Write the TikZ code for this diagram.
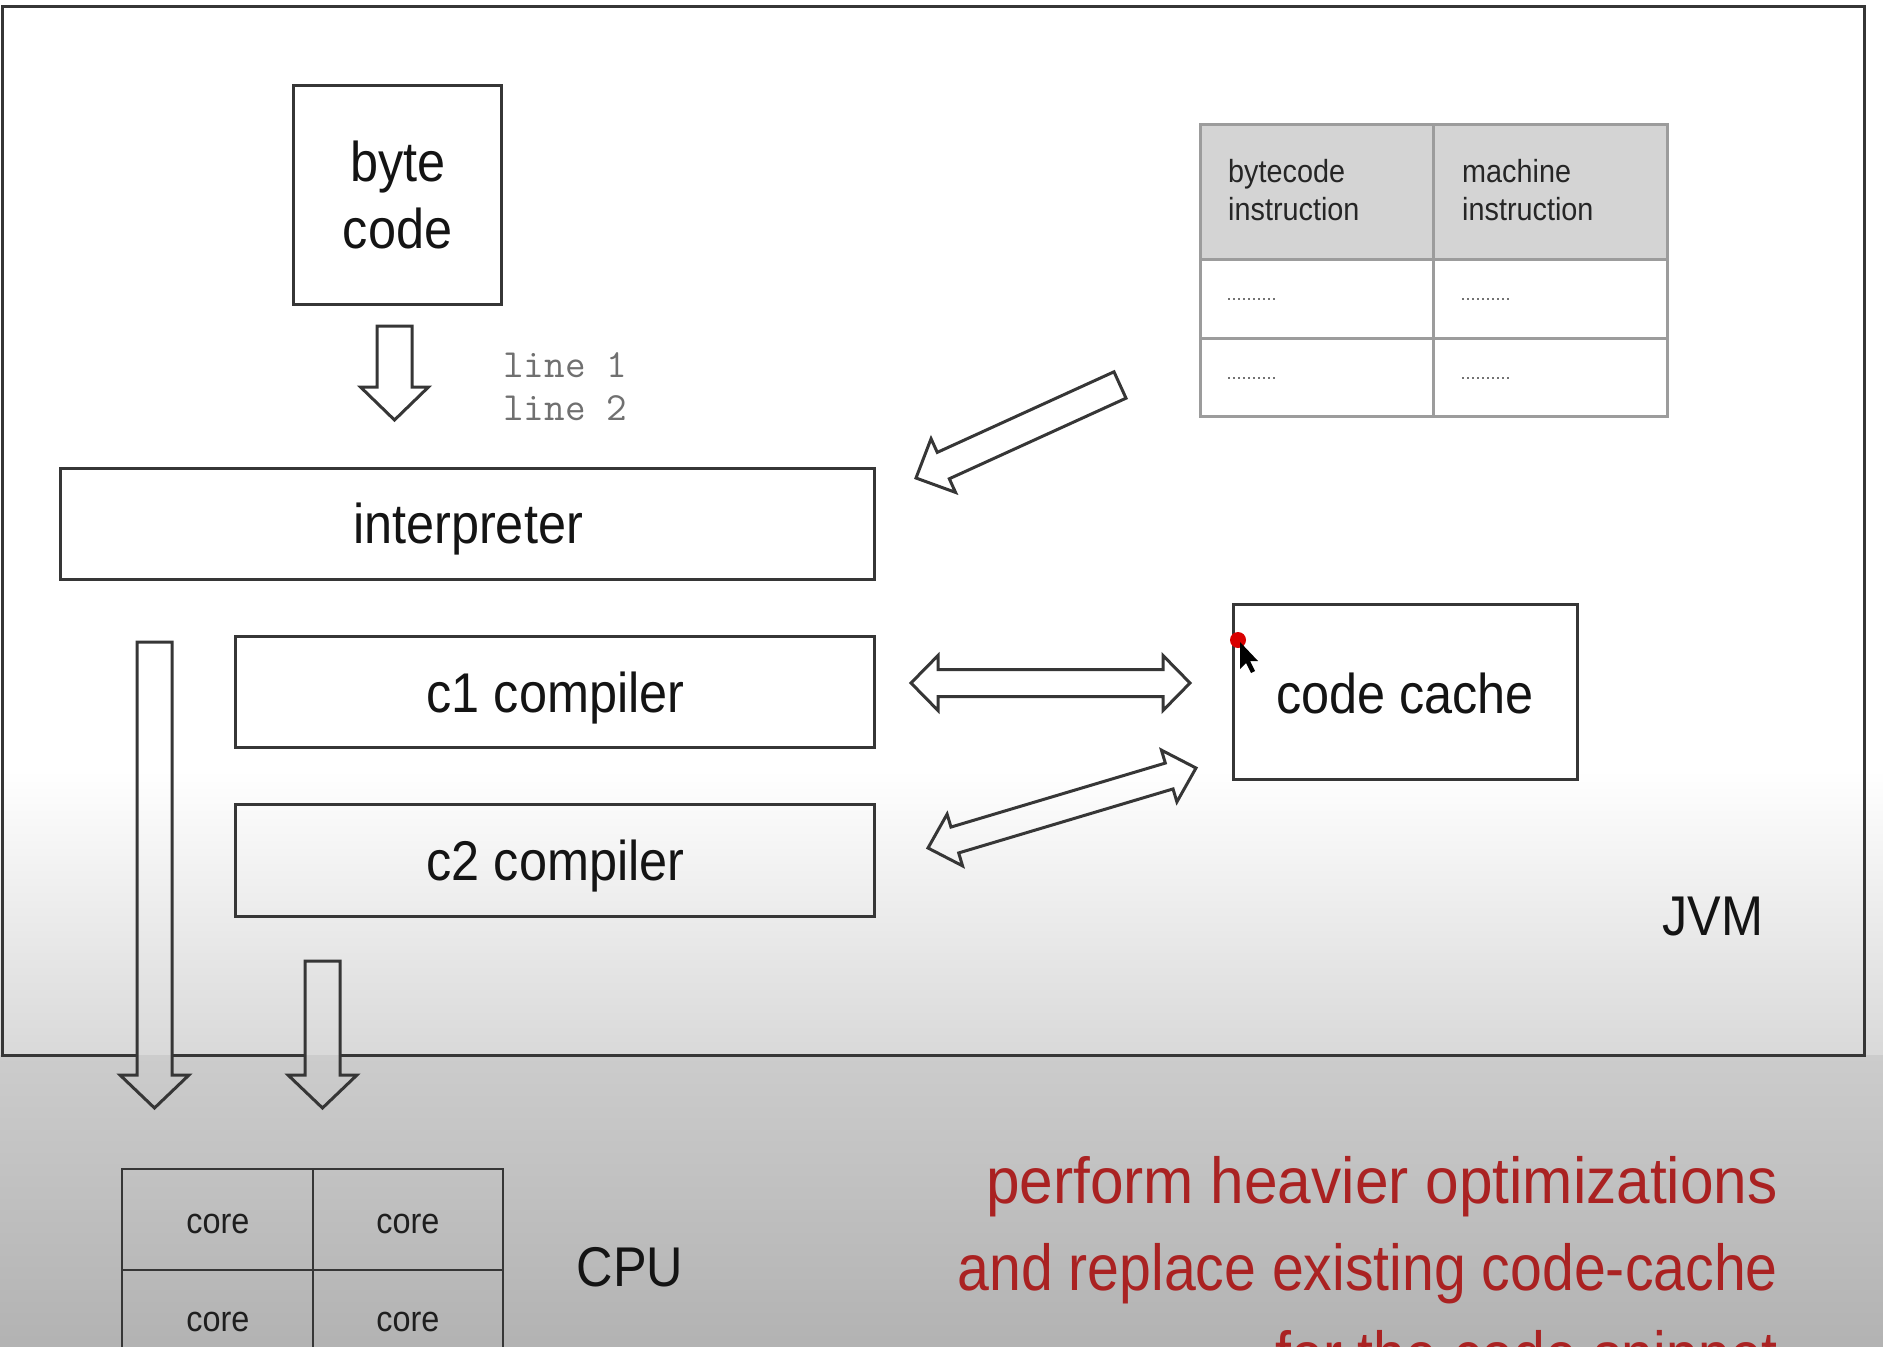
\documentclass[tikz,border=0pt]{standalone}
\usepackage{fontspec}
\setmainfont{Liberation Sans}[FakeStretch=0.9]
\newfontfamily\redfont{Liberation Sans}[FakeStretch=0.88]
\usetikzlibrary{calc}
\definecolor{edge}{HTML}{363636}
\definecolor{tabedge}{HTML}{9C9C9C}
\definecolor{tabhead}{HTML}{D4D4D4}
\definecolor{redtxt}{RGB}{170,34,34}
\definecolor{monogray}{HTML}{707070}
\newcommand\blkarrow[5]{%
  \coordinate (ba-b) at ($(#2)!#5pt!(#1)$);
  \draw[blockarr] ($(#1)!#3pt!90:(#2)$) -- ($(ba-b)!#3pt!90:(#2)$) -- ($(ba-b)!#4pt!90:(#2)$) -- (#2) -- ($(ba-b)!#4pt!-90:(#2)$) -- ($(ba-b)!#3pt!-90:(#2)$) -- ($(#1)!#3pt!-90:(#2)$) -- cycle;}
\newcommand\dblkarrow[5]{%
  \coordinate (da-a) at ($(#1)!#5pt!(#2)$);
  \coordinate (da-b) at ($(#2)!#5pt!(#1)$);
  \draw[blockarr] (#1) -- ($(da-a)!#4pt!90:(#2)$) -- ($(da-a)!#3pt!90:(#2)$) -- ($(da-b)!#3pt!90:(#2)$) -- ($(da-b)!#4pt!90:(#2)$) -- (#2) -- ($(da-b)!#4pt!-90:(#2)$) -- ($(da-b)!#3pt!-90:(#2)$) -- ($(da-a)!#3pt!-90:(#2)$) -- ($(da-a)!#4pt!-90:(#2)$) -- cycle;}
\begin{document}
\begin{tikzpicture}[x=1pt,y=-1pt,
  boxline/.style={draw=edge, line width=3pt},
  box/.style={boxline, inner sep=0pt, rectangle},
  blockarr/.style={draw=edge, line width=3pt, line join=miter},
  biglabel/.style={inner sep=0pt, anchor=base, font=\fontsize{56}{67}\selectfont, text=black!92},
  corelabel/.style={inner sep=0pt, anchor=base, font=\fontsize{36}{43}\selectfont, text=black!88},
  tabtext/.style={inner sep=0pt, anchor=base west, font=\fontsize{32}{38}\selectfont, text=black!85},
  monotext/.style={inner sep=0pt, anchor=base west, font=\ttfamily\fontsize{40}{43}\selectfont, text=monogray},
  redtext/.style={inner sep=0pt, anchor=base east, font=\redfont\fontsize{65}{87}\selectfont, text=redtxt},
  tabgrid/.style={draw=tabedge, line width=3pt}
]
\useasboundingbox (0,0) rectangle (1883,1347);
\clip (0,0) rectangle (1883,1347);
% background
\fill[white] (0,0) rectangle (1883,771);
\shade[top color=white, bottom color=black!15] (0,770) rectangle (1883,1055);
\shade[top color=black!20, bottom color=black!30] (0,1055) rectangle (1883,1347);

% JVM frame (bottom edge interrupted by the block arrows)
\draw[boxline] (137,1055) -- (2,1055) -- (2,6) -- (1864,6) -- (1864,1055) -- (340,1055);
\draw[boxline] (172,1055) -- (305,1055);
\node[biglabel] (jvm) at (1713,935) {JVM};

% byte code
\node[box, minimum width=208pt, minimum height=219pt] (bc) at (397,194.5) {};
\node[biglabel] (bc1) at (398,181) {byte};
\node[biglabel] (bc2) at (397.5,248) {code};

% line 1 / line 2
\node[monotext] (l1) at (503,377) {line 1};
\node[monotext] (l2) at (503,420) {line 2};

% interpreter, compilers, code cache
\node[box, minimum width=814pt, minimum height=111pt] (interp) at (467,523.5) {};
\node[biglabel] at (468,543) {interpreter};
\node[box, minimum width=639pt, minimum height=111pt] (c1) at (554.5,691.5) {};
\node[biglabel] at (555.5,712) {c1 compiler};
\node[box, minimum width=639pt, minimum height=112pt] (c2) at (554.5,860) {};
\node[biglabel] at (555.5,880) {c2 compiler};
\node[box, minimum width=344pt, minimum height=175pt] (cc) at (1405,691.5) {};
\node[biglabel] at (1405,713) {code cache};

% table
\fill[tabhead] (1200,124) rectangle (1667,259);
\fill[white] (1200,259) rectangle (1667,416);
\draw[tabgrid] (1200,124) rectangle (1667,416);
\draw[tabgrid] (1433,124) -- (1433,416);
\draw[tabgrid] (1200,259) -- (1667,259);
\draw[tabgrid] (1200,338) -- (1667,338);
\node[tabtext] (t1) at (1228,182) {bytecode};
\node[tabtext] (t2) at (1228,220) {instruction};
\node[tabtext] (t3) at (1462,182) {machine};
\node[tabtext] (t4) at (1462,220) {instruction};
\foreach \xx in {1228,1462}{
  \foreach \yy in {299,378}{
    \draw[black!55, line width=1.4pt, dash pattern=on 2pt off 3pt] (\xx,\yy) -- ++(47,0);
  }
}

% CPU
\draw[boxline, line width=2.5pt] (122,1169) rectangle (503,1371);
\draw[boxline, line width=2.5pt] (313,1169) -- (313,1371);
\draw[boxline, line width=2.5pt] (122,1270) -- (503,1270);
\node[corelabel] (k1) at (218,1233) {core};
\node[corelabel] (k2) at (408,1233) {core};
\node[corelabel] (k3) at (218,1331) {core};
\node[corelabel] (k4) at (408,1331) {core};
\node[biglabel] (cpu) at (630,1286) {CPU};

% block arrows
\coordinate (bcA) at (394.5,326);   \coordinate (bcB) at (394.5,420);
\coordinate (inA) at (154.5,642);   \coordinate (inB) at (154.5,1108);
\coordinate (c2A) at (322.5,961);   \coordinate (c2B) at (322.5,1108);
\coordinate (tbA) at (1120,385);    \coordinate (tbB) at (916,478);
\coordinate (d1A) at (911,683);     \coordinate (d1B) at (1190,683);
\coordinate (d2A) at (928,848);     \coordinate (d2B) at (1196,768);
\blkarrow{bcA}{bcB}{17.5}{34}{33}
\blkarrow{inA}{inB}{17.5}{34.5}{33}
\blkarrow{c2A}{c2B}{17.5}{34.5}{33}
\blkarrow{tbA}{tbB}{14.5}{29.5}{30}
\dblkarrow{d1A}{d1B}{13.5}{27.5}{27}
\dblkarrow{d2A}{d2B}{13.5}{27}{28}

% pointer
\fill[red!85!black] (1238,640) circle (8);
\fill[black] (1240,642) -- (1240,669) -- (1246,663) -- (1251,673) -- (1255,671) -- (1250,661) -- (1258,661) -- cycle;

% red note
\node[redtext] (n1) at (1778,1203) {\scalebox{1.055}[1]{perform heavier optimizations}};
\node[redtext] (n2) at (1778,1290) {and replace existing code-cache};
\node[redtext] (n3) at (1778,1377) {for the code snippet};
\end{tikzpicture}
\end{document}
